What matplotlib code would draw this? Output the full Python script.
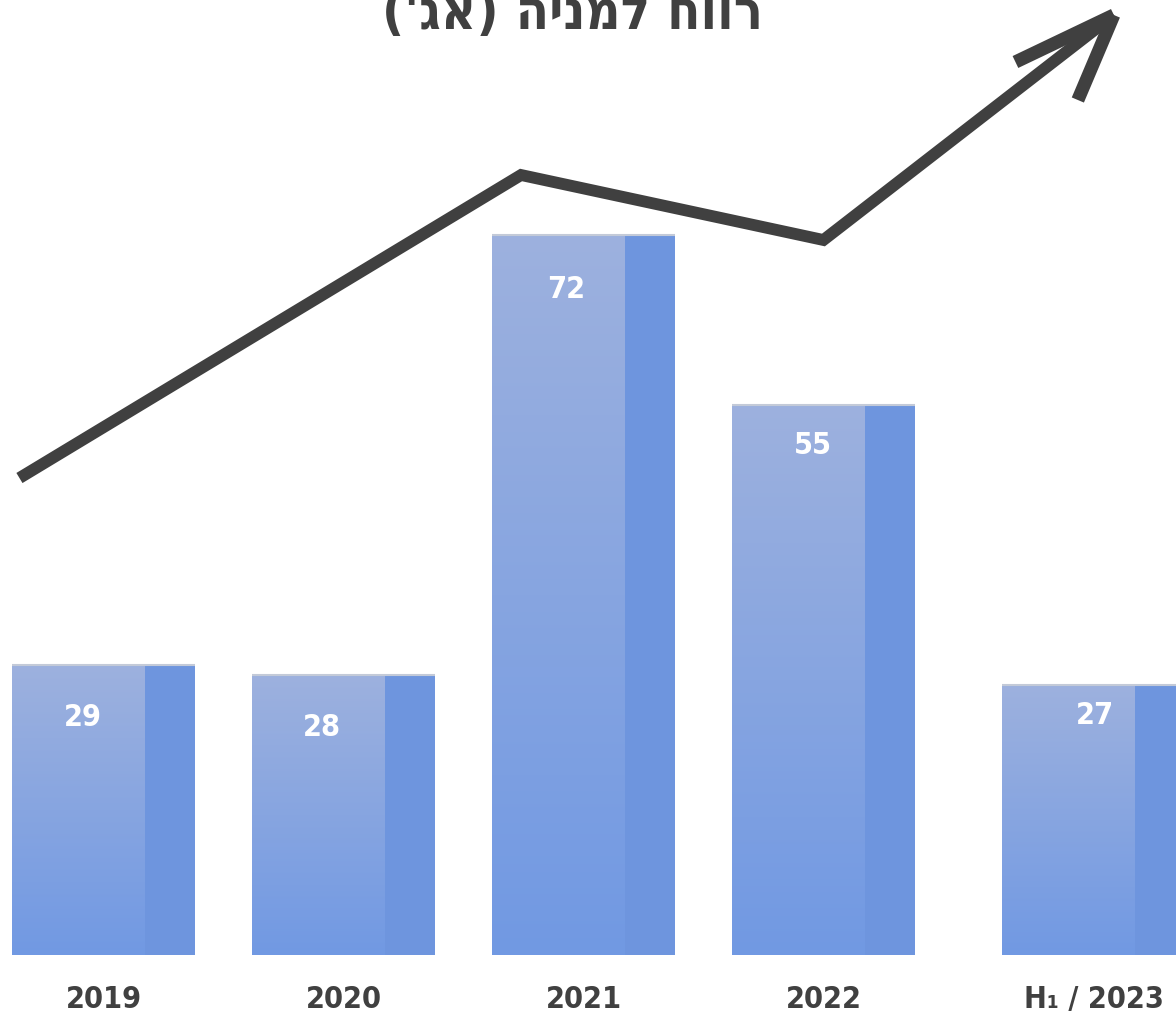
import numpy as np
import matplotlib
matplotlib.use("Agg")
import matplotlib.pyplot as plt
from matplotlib.colors import LinearSegmentedColormap
from matplotlib.patches import Rectangle

# data
years = ["2019", "2020", "2021", "2022", "H\u2081 / 2023"]
eps = [29, 28, 72, 55, 27]
title = "('גא) הינמל חוור"   # "רווח למניה (אג')" written in visual order

# hand drawn trend arrow (x in bar slots, y in agorot)
trend_x = [-0.35, 1.74, 3.0, 4.21]
trend_y = [47.7, 78.0, 71.5, 94.0]
head_left = (3.80, 89.3)
head_right = (4.06, 85.5)

# layout
slot = np.arange(len(years), dtype=float)
slot[-1] += 0.125
front_w = 0.555
side_w = 0.21
lab_dx = [0.02, 0.015, 0.035, 0.06, 0.11]
lab_dy = [5.3, 5.3, 5.4, 4.1, 3.0]
dark = "#404040"
font = dict(family=["DejaVu Sans"], stretch="condensed", fontweight="bold")

fig = plt.figure(figsize=(11.76, 10.14), dpi=100)
ax = fig.add_axes([0, 59 / 1014, 1, 955 / 1014])
ax.axis("off")

front_cmap = LinearSegmentedColormap.from_list("front", ["#7199e3", "#9db1de"])
grad = np.linspace(0, 1, 256).reshape(-1, 1)

for i, (x, v) in enumerate(zip(slot, eps)):
    left = x - (front_w + side_w) / 2
    # front face with vertical gradient
    r = Rectangle((left, 0), front_w, v, facecolor="none", edgecolor="none")
    ax.add_patch(r)
    im = ax.imshow(grad, cmap=front_cmap, origin="lower", aspect="auto",
                   extent=(left, left + front_w, 0, v), zorder=1)
    im.set_clip_path(r)
    # side face
    ax.add_patch(Rectangle((left + front_w, 0), side_w, v,
                           facecolor="#6e95de", edgecolor="none", zorder=1))
    # light bevel on top
    ax.plot([left, left + front_w + side_w], [v, v], color="#c3cad8",
            lw=1.5, zorder=2, solid_capstyle="butt")
    ax.text(left + front_w / 2 + lab_dx[i], v - lab_dy[i], str(v),
            color="white", fontsize=22, ha="center", va="center",
            zorder=3, **font)

ax.set_xlim(-0.431, 4.469)
ax.set_ylim(0, 95.5)

# trend arrow
ax.plot(trend_x, trend_y, color=dark, lw=8.5, solid_joinstyle="miter",
        solid_capstyle="butt", zorder=4)
tip = (trend_x[-1], trend_y[-1])
for hx, hy in (head_left, head_right):
    ax.plot([hx, tip[0]], [hy, tip[1]], color=dark, lw=9.5,
            solid_capstyle="butt", solid_joinstyle="miter", zorder=4)

# category labels
for x, lab in zip(slot, years):
    fig.text((x + 0.431) / 4.9, 6 / 1014, lab, color=dark,
             fontsize=22, ha="center", va="baseline", **font)

# title (top half cut off by the figure edge)
fig.text(572 / 1176, 1 - 29 / 1014, title, color=dark, fontsize=39,
         ha="center", va="baseline", **font)

fig.savefig("out.png", dpi=100, facecolor="white")
